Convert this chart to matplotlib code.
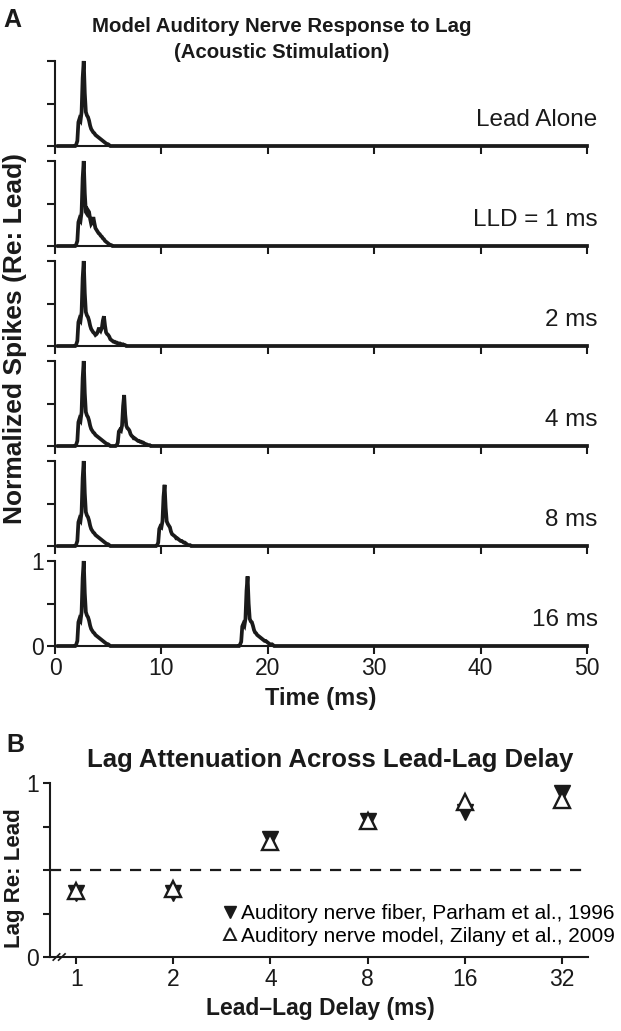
import numpy as np
import matplotlib
matplotlib.use('Agg')
import matplotlib.pyplot as plt
from matplotlib.lines import Line2D

plt.rcParams['font.family'] = ['Liberation Sans', 'DejaVu Sans']

# ---------------- Panel A data (normalized spikes, 0.1 ms bins) ----------------
BIN_MS = 0.1
T_END = 50.0
LEAD_ONSET = 2.0
LEAD_PSTH = [0.02, 0.06, 0.28, 0.32, 0.30, 0.40, 0.80, 1.00, 0.62, 0.40,
             0.36, 0.34, 0.30, 0.24, 0.20, 0.18, 0.16, 0.15, 0.13, 0.12,
             0.11, 0.10, 0.09, 0.08, 0.07, 0.06, 0.05, 0.04, 0.03, 0.02,
             0.02, 0.01, 0.0]

PANEL_LABELS = ['Lead Alone', 'LLD = 1 ms', '2 ms', '4 ms', '8 ms', '16 ms']
LAG_ONSETS = [None, 3.0, 3.9, 5.8, 9.6, 17.4]
LAG_PSTHS = [
    [],
    [0.02, 0.08, 0.10, 0.08, 0.06, 0.10, 0.18, 0.12, 0.08, 0.07,
     0.06, 0.05, 0.05, 0.04, 0.04, 0.03, 0.03, 0.02, 0.02, 0.02,
     0.01, 0.01, 0.01, 0.01, 0.0],
    [0.02, 0.05, 0.10, 0.11, 0.10, 0.14, 0.24, 0.30, 0.20, 0.13,
     0.12, 0.11, 0.10, 0.08, 0.07, 0.06, 0.05, 0.05, 0.04, 0.04,
     0.03, 0.03, 0.03, 0.02, 0.02, 0.02, 0.01, 0.01, 0.0],
    [0.01, 0.04, 0.17, 0.19, 0.18, 0.24, 0.47, 0.60, 0.37, 0.24,
     0.21, 0.20, 0.18, 0.14, 0.12, 0.11, 0.09, 0.09, 0.08, 0.07,
     0.06, 0.06, 0.05, 0.05, 0.04, 0.04, 0.03, 0.02, 0.02, 0.01,
     0.01, 0.01, 0.0],
    [0.01, 0.04, 0.20, 0.23, 0.22, 0.29, 0.58, 0.72, 0.45, 0.29,
     0.26, 0.24, 0.22, 0.17, 0.14, 0.13, 0.12, 0.11, 0.09, 0.09,
     0.08, 0.07, 0.06, 0.06, 0.05, 0.04, 0.04, 0.03, 0.02, 0.01,
     0.01, 0.01, 0.0],
    [0.02, 0.05, 0.23, 0.26, 0.24, 0.32, 0.65, 0.82, 0.50, 0.32,
     0.29, 0.28, 0.24, 0.19, 0.16, 0.15, 0.13, 0.12, 0.11, 0.10,
     0.09, 0.08, 0.07, 0.06, 0.06, 0.05, 0.04, 0.03, 0.02, 0.02,
     0.02, 0.01, 0.0],
]
A_XTICKS = [0, 10, 20, 30, 40, 50]
A_TITLE = ['Model Auditory Nerve Response to Lag', '(Acoustic Stimulation)']

# ---------------- Panel B data ----------------
DELAYS = [1, 2, 4, 8, 16, 32]
FIBER = [0.37, 0.37, 0.68, 0.78, 0.835, 0.94]   # Parham et al., 1996
MODEL = [0.38, 0.39, 0.66, 0.78, 0.89, 0.905]   # Zilany et al., 2009
FIBER_LABEL = 'Auditory nerve fiber, Parham et al., 1996'
MODEL_LABEL = 'Auditory nerve model, Zilany et al., 2009'

W, H = 621, 1031
fig = plt.figure(figsize=(W / 100, H / 100), dpi=100)
INK = '#1a1a1a'


def fx(px):
    return px / W


def fy(py):
    return 1 - py / H


LW_AX = 1.5
t = np.arange(0, T_END + BIN_MS / 2, BIN_MS)

for i, lab in enumerate(PANEL_LABELS):
    base_px = 146 + 100 * i
    top_px = 61 + 100 * i
    ax = fig.add_axes([fx(55), fy(base_px), fx(587) - fx(55), (base_px - top_px) / H])
    y = np.zeros_like(t)
    k0 = int(round(LEAD_ONSET / BIN_MS))
    y[k0:k0 + len(LEAD_PSTH)] += np.array(LEAD_PSTH)
    if LAG_ONSETS[i] is not None:
        k1 = int(round(LAG_ONSETS[i] / BIN_MS))
        y[k1:k1 + len(LAG_PSTHS[i])] += np.array(LAG_PSTHS[i])
    ax.plot(t[3:], y[3:], color=INK, lw=2.7, clip_on=False, solid_joinstyle='miter')
    ax.set_xlim(0, 50)
    ax.set_ylim(0, 1)
    for s in ['top', 'right']:
        ax.spines[s].set_visible(False)
    for s in ['left', 'bottom']:
        ax.spines[s].set_linewidth(LW_AX)
        ax.spines[s].set_color(INK)
    ax.set_xticks(A_XTICKS)
    ax.set_yticks([0, 0.5, 1])
    ax.tick_params(direction='out', length=6, width=LW_AX, colors=INK,
                   labelsize=16.5, pad=2)
    if i < 5:
        ax.set_xticklabels([])
        ax.set_yticklabels([])
    else:
        ax.set_yticklabels(['0', '', '1'])
        ax.set_xticklabels([str(v) for v in A_XTICKS])
    ax.text(51.0, 0.3, lab, ha='right', va='center', fontsize=17.5, color=INK)
    ax.patch.set_alpha(0)

fig.text(fx(3), fy(20), 'A', fontsize=18, fontweight='bold', ha='left', va='center', color=INK)
fig.text(fx(282), fy(32), A_TITLE[0], ha='center', va='baseline', fontsize=14.7,
         fontweight='bold', color=INK)
fig.text(fx(282), fy(58), A_TITLE[1], ha='center', va='baseline', fontsize=14.7,
         fontweight='bold', color=INK)
fig.text(fx(15), fy(338), 'Normalized Spikes (Re: Lead)', rotation=90, ha='center',
         va='center', fontsize=19, fontweight='bold', color=INK)
fig.text(fx(321), fy(699), 'Time (ms)', ha='center', va='center', fontsize=17,
         fontweight='bold', color=INK)

# ---------------- Panel B ----------------
axb = fig.add_axes([fx(50), fy(957), fx(588) - fx(50), 174 / H])
xpos = np.log2(DELAYS)
axb.axhline(0.5, color=INK, lw=1.6, ls=(0, (5, 4)), zorder=1)
axb.plot(xpos, FIBER, ls='none', marker='v', ms=11, color=INK, mec=INK,
         zorder=3, clip_on=False)
axb.plot(xpos, MODEL, ls='none', marker='^', ms=11, mfc='white', mec=INK, mew=1.7,
         zorder=4, clip_on=False)
axb.set_xlim(-0.27, 5.27)
axb.set_ylim(0, 1)
for s in ['top', 'right']:
    axb.spines[s].set_visible(False)
for s in ['left', 'bottom']:
    axb.spines[s].set_linewidth(LW_AX)
    axb.spines[s].set_color(INK)
axb.spines['left'].set_bounds(0, 1)
axb.set_xticks(xpos)
axb.set_xticklabels([str(d) for d in DELAYS])
axb.set_yticks([0, 0.25, 0.5, 0.75, 1])
axb.set_yticklabels(['0', '', '', '', '1'])
axb.tick_params(direction='out', length=5, width=LW_AX, colors=INK, labelsize=16.5, pad=3)
# axis break marks
for dx in (0.012, 0.022):
    axb.plot([dx - 0.006, dx + 0.006], [-0.018, 0.018], transform=axb.transAxes,
             color=INK, lw=1.2, clip_on=False)

handles = [Line2D([], [], ls='none', marker='v', ms=9, color=INK),
           Line2D([], [], ls='none', marker='^', ms=9, mfc='white', mec=INK, mew=1.4)]
fig.legend(handles, [FIBER_LABEL, MODEL_LABEL], loc='center right',
           bbox_to_anchor=(fx(615), fy(925)), frameon=False, fontsize=15,
           handletextpad=0.1, handlelength=0.9, labelspacing=0.15, borderpad=0,
           borderaxespad=0)

fig.text(fx(6), fy(745), 'B', fontsize=18, fontweight='bold', ha='left', va='center', color=INK)
fig.text(fx(330), fy(760), 'Lag Attenuation Across Lead-Lag Delay', ha='center', va='center',
         fontsize=18.5, fontweight='bold', color=INK)
fig.text(fx(15), fy(878), 'Lag Re: Lead', rotation=90, ha='center', va='center',
         fontsize=16, fontweight='bold', color=INK)
fig.text(fx(320), fy(1009), 'Lead\u2013Lag Delay (ms)', ha='center', va='center',
         fontsize=16.5, fontweight='bold', color=INK)

fig.savefig('out.png', dpi=100)
